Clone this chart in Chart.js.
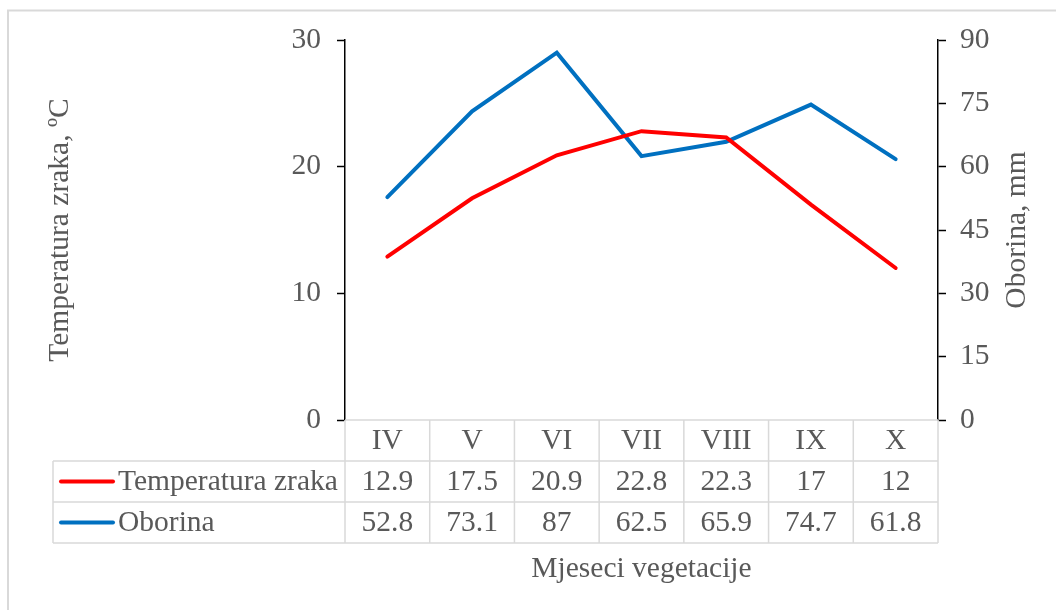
<!DOCTYPE html>
<html>
<head>
<meta charset="utf-8">
<script src="https://cdn.jsdelivr.net/npm/chart.js@4.4.1/dist/chart.umd.min.js"></script>
<style>
  html, body { margin: 0; padding: 0; background: #fff; }
  #wrap { width: 1056px; height: 610px; position: relative; }
</style>
</head>
<body>
<div id="wrap"><canvas id="climateChart" width="1056" height="610"></canvas></div>
<script>
const months = ['IV', 'V', 'VI', 'VII', 'VIII', 'IX', 'X'];
const temperature = [12.9, 17.5, 20.9, 22.8, 22.3, 17, 12];
const precipitation = [52.8, 73.1, 87, 62.5, 65.9, 74.7, 61.8];
const tempTicks = [0, 10, 20, 30];
const rainTicks = [0, 15, 30, 45, 60, 75, 90];

const FONT = '"Liberation Serif", "Times New Roman", serif';
const SIZE = 29.5;
const TEXT = '#595959';
const GRID = '#d9d9d9';
const RED = '#ff0000';
const BLUE = '#0070c0';

// Data table under the plot + frame + right axis title
const dataTable = {
  id: 'dataTable',
  beforeDraw(chart) {
    const ctx = chart.ctx;
    ctx.save();
    ctx.strokeStyle = GRID;
    ctx.lineWidth = 2;
    ctx.beginPath();
    ctx.moveTo(8, 610);
    ctx.lineTo(8, 10.5);
    ctx.lineTo(1056, 10.5);
    ctx.stroke();
    ctx.restore();
  },
  afterDraw(chart) {
    const ctx = chart.ctx;
    const area = chart.chartArea;
    const x = chart.scales.x;
    const rowH = 41;
    const top = area.bottom;
    const tableLeft = 53;
    const rows = [
      { name: 'Temperatura zraka', color: RED, values: temperature },
      { name: 'Oborina', color: BLUE, values: precipitation }
    ];
    const bottom = top + rowH * (rows.length + 1);

    // cell boundaries from the category scale
    const edges = [area.left];
    for (let i = 0; i < months.length - 1; i++) {
      edges.push((x.getPixelForValue(i) + x.getPixelForValue(i + 1)) / 2);
    }
    edges.push(area.right);

    ctx.save();
    ctx.strokeStyle = GRID;
    ctx.lineWidth = 1.5;
    ctx.beginPath();
    ctx.moveTo(area.left, top);
    ctx.lineTo(area.right, top);
    for (let r = 1; r <= rows.length + 1; r++) {
      ctx.moveTo(tableLeft, top + rowH * r);
      ctx.lineTo(area.right, top + rowH * r);
    }
    edges.forEach(e => {
      ctx.moveTo(e, top);
      ctx.lineTo(e, bottom);
    });
    ctx.moveTo(tableLeft, top + rowH);
    ctx.lineTo(tableLeft, bottom);
    ctx.stroke();

    ctx.font = SIZE + 'px ' + FONT;
    ctx.fillStyle = TEXT;
    ctx.textAlign = 'center';
    ctx.textBaseline = 'middle';
    months.forEach((m, i) => {
      ctx.fillText(m, x.getPixelForValue(i), top + rowH / 2 + 1);
    });

    rows.forEach((row, r) => {
      const cy = top + rowH * (r + 1) + rowH / 2 + 1;
      ctx.strokeStyle = row.color;
      ctx.lineWidth = 4;
      ctx.lineCap = 'round';
      ctx.beginPath();
      ctx.moveTo(61, cy - 1);
      ctx.lineTo(113, cy - 1);
      ctx.stroke();
      ctx.fillStyle = TEXT;
      ctx.textAlign = 'left';
      ctx.fillText(row.name, 118, cy);
      ctx.textAlign = 'center';
      row.values.forEach((v, i) => {
        ctx.fillText(String(v), x.getPixelForValue(i), cy);
      });
    });

    // x axis title
    ctx.fillText('Mjeseci vegetacije', (area.left + area.right) / 2, 569);

    // right axis title, reading upwards like the left one
    const y1 = chart.scales.y1;
    ctx.translate(1017, (y1.top + y1.bottom) / 2);
    ctx.rotate(-Math.PI / 2);
    ctx.fillText('Oborina, mm', 0, 0);
    ctx.restore();
  }
};

new Chart(document.getElementById('climateChart'), {
  type: 'line',
  data: {
    labels: months,
    datasets: [
      {
        label: 'Temperatura zraka',
        data: temperature,
        yAxisID: 'y',
        borderColor: RED,
        borderWidth: 4,
        borderCapStyle: 'round',
        pointRadius: 0,
        tension: 0
      },
      {
        label: 'Oborina',
        data: precipitation,
        yAxisID: 'y1',
        borderColor: BLUE,
        borderWidth: 4,
        borderCapStyle: 'round',
        pointRadius: 0,
        tension: 0
      }
    ]
  },
  options: {
    responsive: false,
    animation: false,
    layout: { padding: { top: 40, bottom: 190, left: 0, right: 0 } },
    plugins: {
      legend: { display: false },
      tooltip: { enabled: false }
    },
    scales: {
      x: {
        display: false,
        offset: true
      },
      y: {
        position: 'left',
        min: 0,
        max: 30,
        afterBuildTicks: s => { s.ticks = tempTicks.map(v => ({ value: v })); },
        afterFit: s => { s.width = 345; },
        border: { display: true, color: '#000', width: 1.5 },
        grid: { drawOnChartArea: false, drawTicks: true, tickLength: 8, tickColor: '#000', tickWidth: 1.5 },
        ticks: { color: TEXT, padding: 16, font: { family: FONT, size: SIZE } },
        title: {
          display: true,
          text: 'Temperatura zraka, ºC',
          color: TEXT,
          font: { family: FONT, size: SIZE },
          padding: { top: 43, bottom: 4 }
        }
      },
      y1: {
        position: 'right',
        min: 0,
        max: 90,
        afterBuildTicks: s => { s.ticks = rainTicks.map(v => ({ value: v })); },
        afterFit: s => { s.width = 118; },
        border: { display: true, color: '#000', width: 1.5 },
        grid: { drawOnChartArea: false, drawTicks: true, tickLength: 8, tickColor: '#000', tickWidth: 1.5 },
        ticks: { color: TEXT, padding: 14, font: { family: FONT, size: SIZE } }
      }
    }
  },
  plugins: [dataTable]
});
</script>
</body>
</html>
